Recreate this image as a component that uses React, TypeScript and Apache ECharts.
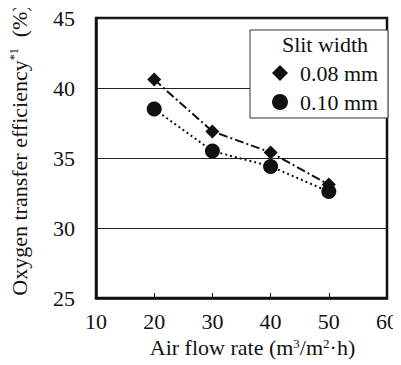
import React, { useEffect, useRef } from "react";
import * as echarts from "echarts";

const airFlow = [20, 30, 40, 50];
const slit008 = [40.6, 36.9, 35.4, 33.1];
const slit010 = [38.5, 35.5, 34.4, 32.6];
const seriesNames = ["0.08 mm", "0.10 mm"];
const legendTitle = "Slit width";

const FONT = "Liberation Serif";

export default function App() {
  const ref = useRef<HTMLDivElement>(null);
  useEffect(() => {
    if (!ref.current) return;
    const chart = echarts.init(ref.current, undefined, { renderer: "svg" });
    const fs = 22;
    chart.setOption({
      animation: false,
      textStyle: { fontFamily: FONT, color: "#111" },
      grid: {
        left: 96,
        right: 4,
        top: 18,
        bottom: 67,
        show: true,
        borderColor: "#111",
        borderWidth: 2.5,
        backgroundColor: "transparent",
      },
      xAxis: {
        type: "value",
        min: 10,
        max: 60,
        interval: 10,
        name: "{t|Air flow rate (m}{s|3}{t|/m}{s|2}{t|·h)}",
        nameLocation: "middle",
        nameGap: 36,
        nameTextStyle: {
          fontFamily: FONT,
          padding: [0, 0, 0, 22],
          rich: {
            t: { fontFamily: FONT, fontSize: fs, color: "#111" },
            s: { fontFamily: FONT, fontSize: 13, color: "#111", verticalAlign: "top", padding: [0, 0, 9, 0] },
          },
        },
        axisLine: { show: true, lineStyle: { color: "#111", width: 2.5 } },
        axisTick: { show: true, inside: true, length: 5, lineStyle: { color: "#111", width: 1 } },
        axisLabel: { fontFamily: FONT, fontSize: fs, color: "#111", margin: 12 },
        splitLine: { show: false },
      },
      yAxis: {
        type: "value",
        min: 25,
        max: 45,
        interval: 5,
        name: "{t|Oxygen transfer efficiency}{s|*1}{t|  (%)}",
        nameLocation: "middle",
        nameGap: 66,
        nameRotate: 90,
        nameTextStyle: {
          fontFamily: FONT,
          padding: [0, 0, 0, 16],
          rich: {
            t: { fontFamily: FONT, fontSize: fs, color: "#111" },
            s: { fontFamily: FONT, fontSize: 12, color: "#111", verticalAlign: "top", padding: [0, 0, 9, 0] },
          },
        },
        axisLine: { show: true, lineStyle: { color: "#111", width: 2.5 } },
        axisTick: { show: false },
        axisLabel: { fontFamily: FONT, fontSize: fs, color: "#111", margin: 21 },
        splitLine: { show: true, lineStyle: { color: "#222", width: 1.2 } },
      },
      legend: {
        orient: "vertical",
        left: 272,
        top: 62,
        z: 30,
        padding: 0,
        itemGap: 7,
        itemWidth: 16,
        itemHeight: 16,
        textStyle: { fontFamily: FONT, fontSize: fs, lineHeight: 22, color: "#111", padding: [0, 0, 0, 7] },
        data: [
          { name: seriesNames[0], icon: "diamond" },
          { name: seriesNames[1], icon: "circle" },
        ],
      },
      graphic: [
        {
          type: "rect",
          z: 20,
          shape: { x: 250, y: 30, width: 138, height: 88 },
          style: { fill: "#fff", stroke: "#333", lineWidth: 1 },
        },
        {
          type: "text",
          z: 25,
          x: 325,
          y: 33,
          style: {
            text: legendTitle,
            fontFamily: FONT,
            fontSize: fs,
            fill: "#111",
            align: "center",
          },
        },
      ],
      series: [
        {
          name: seriesNames[0],
          type: "line",
          data: airFlow.map((x, i) => [x, slit008[i]]),
          symbol: "diamond",
          symbolSize: 14,
          itemStyle: { color: "#111" },
          lineStyle: { color: "#111", width: 2, type: [9, 3, 2, 3] },
        },
        {
          name: seriesNames[1],
          type: "line",
          data: airFlow.map((x, i) => [x, slit010[i]]),
          symbol: "circle",
          symbolSize: 15,
          itemStyle: { color: "#111" },
          lineStyle: { color: "#111", width: 2, type: [2, 3] },
        },
      ],
    });
    return () => chart.dispose();
  }, []);
  return <div ref={ref} style={{ width: 401, height: 365, marginLeft: -8, marginTop: -8 }} />;
}
